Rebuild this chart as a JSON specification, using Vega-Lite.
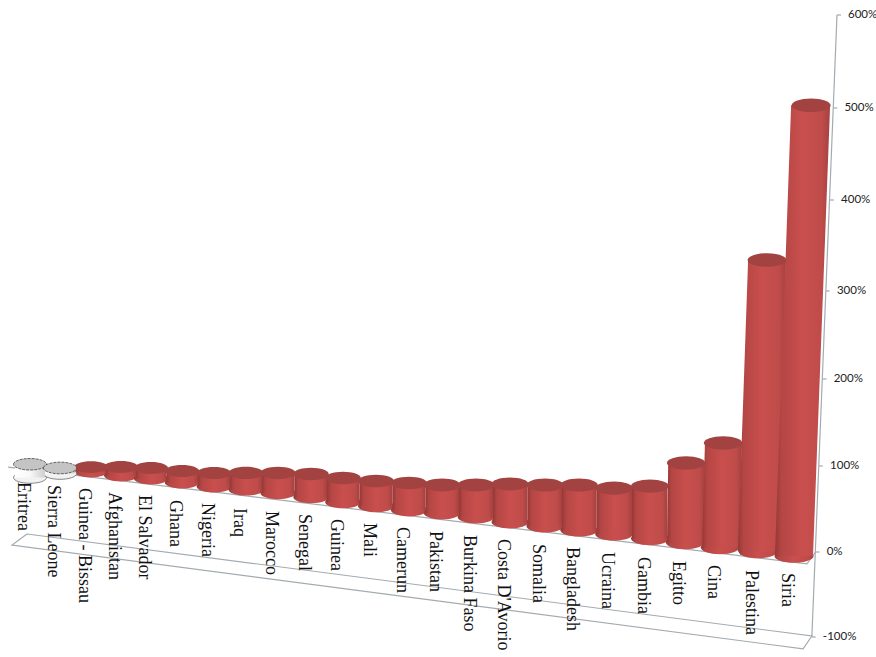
{
"$schema":"https://vega.github.io/schema/vega-lite/v6.json",
"width":876,"height":657,"autosize":"none","padding":0,"background":"white",
"config":{"view":{"stroke":null}},
"datasets":{
"bars":[
{"country":"Eritrea","rank":1,"value":102,"base":86.6,"labelAt":81.4,"levels":[86.6,102],"lefts":[0.5,0.5],"rights":[1.5,1.5],"baseAt":1,"topAt":1},
{"country":"Sierra Leone","rank":2,"value":97.7,"base":91.3,"labelAt":77.9,"levels":[91.3,97.7],"lefts":[1.5,1.5],"rights":[2.5,2.5],"baseAt":2,"topAt":2},
{"country":"Guinea - Bissau","rank":3,"value":98.8,"base":93.6,"labelAt":74.4,"levels":[93.6,98.8],"lefts":[2.5,2.5],"rights":[3.5,3.5],"baseAt":3,"topAt":3},
{"country":"Afghanistan","rank":4,"value":98.8,"base":89,"labelAt":69.8,"levels":[89,98.8],"lefts":[3.5,3.5],"rights":[4.5,4.5],"baseAt":4,"topAt":4},
{"country":"El Salvador","rank":5,"value":97.7,"base":85.5,"labelAt":66.3,"levels":[85.5,97.7],"lefts":[4.5,4.5],"rights":[5.5,5.5],"baseAt":5,"topAt":5},
{"country":"Ghana","rank":6,"value":94.2,"base":80.8,"labelAt":60.5,"levels":[80.8,94.2],"lefts":[5.5,5.5],"rights":[6.5,6.5],"baseAt":6,"topAt":6},
{"country":"Nigeria","rank":7,"value":91.9,"base":76.2,"labelAt":57,"levels":[76.2,91.9],"lefts":[6.5,6.5],"rights":[7.5,7.5],"baseAt":7,"topAt":7},
{"country":"Iraq","rank":8,"value":91.9,"base":72.7,"labelAt":51.2,"levels":[72.7,91.9],"lefts":[7.5,7.5],"rights":[8.5,8.5],"baseAt":8,"topAt":8},
{"country":"Marocco","rank":9,"value":91.9,"base":68.6,"labelAt":47.7,"levels":[68.6,91.9],"lefts":[8.5,8.5],"rights":[9.5,9.5],"baseAt":9,"topAt":9},
{"country":"Senegal","rank":10,"value":90.7,"base":64,"labelAt":44.2,"levels":[64,90.7],"lefts":[9.5,9.5],"rights":[10.5,10.5],"baseAt":10,"topAt":10},
{"country":"Guinea","rank":11,"value":86,"base":58.1,"labelAt":38.4,"levels":[58.1,86],"lefts":[10.5,10.5],"rights":[11.5,11.5],"baseAt":11,"topAt":11},
{"country":"Mali","rank":12,"value":82.6,"base":53.5,"labelAt":33.7,"levels":[53.5,82.6],"lefts":[11.5,11.5],"rights":[12.5,12.5],"baseAt":12,"topAt":12},
{"country":"Camerun","rank":13,"value":80.2,"base":48.8,"labelAt":29.1,"levels":[48.8,80.2],"lefts":[12.5,12.5],"rights":[13.5,13.5],"baseAt":13,"topAt":13},
{"country":"Pakistan","rank":14,"value":77.9,"base":45.3,"labelAt":24.4,"levels":[45.3,77.9],"lefts":[13.5,13.5],"rights":[14.5,14.5],"baseAt":14,"topAt":14},
{"country":"Burkina Faso","rank":15,"value":77.9,"base":40.7,"labelAt":19.8,"levels":[40.7,77.9],"lefts":[14.5,14.5],"rights":[15.5,15.5],"baseAt":15,"topAt":15},
{"country":"Costa D'Avorio","rank":16,"value":79.1,"base":34.9,"labelAt":15.1,"levels":[34.9,79.1],"lefts":[15.5,15.5],"rights":[16.5,16.5],"baseAt":16,"topAt":16},
{"country":"Somalia","rank":17,"value":77.9,"base":30.2,"labelAt":9.3,"levels":[30.2,77.9],"lefts":[16.5,16.5],"rights":[17.5,17.5],"baseAt":17,"topAt":17},
{"country":"Bangladesh","rank":18,"value":77.9,"base":25.6,"labelAt":5.8,"levels":[25.6,77.9],"lefts":[17.5,17.5],"rights":[18.5,18.5],"baseAt":18,"topAt":18},
{"country":"Ucraina","rank":19,"value":74.4,"base":20.9,"labelAt":0,"levels":[20.9,74.4],"lefts":[18.5,18.5],"rights":[19.5,19.5],"baseAt":19,"topAt":19},
{"country":"Gambia","rank":20,"value":76.7,"base":15.7,"labelAt":-5.9,"levels":[15.7,76.7],"lefts":[19.5,19.5],"rights":[20.5,20.5],"baseAt":20,"topAt":20},
{"country":"Egitto","rank":21,"value":103.4,"base":11,"labelAt":-10.6,"levels":[11,103.4],"lefts":[20.49,20.52],"rights":[21.54,21.57],"baseAt":21,"topAt":21.03},
{"country":"Cina","rank":22,"value":126.4,"base":5.2,"labelAt":-15.3,"levels":[5.2,126.4],"lefts":[21.49,21.57],"rights":[22.5,22.58],"baseAt":22,"topAt":22.08},
{"country":"Palestina","rank":23,"value":334,"base":0.6,"labelAt":-21.2,"levels":[0.6,334],"lefts":[22.47,22.74],"rights":[23.55,23.78],"baseAt":23,"topAt":23.25},
{"country":"Siria","rank":24,"value":503,"base":-4.7,"labelAt":-24.7,"levels":[-4.7,503],"lefts":[23.47,23.92],"rights":[24.5,24.95],"baseAt":24,"topAt":24.45}
],
"ticks":[
{"tick":-100,"pos":24.47,"end":24.57,"label":"-100%"},
{"tick":0,"pos":24.57,"end":24.67,"label":"0%"},
{"tick":100,"pos":24.66,"end":24.76,"label":"100%"},
{"tick":200,"pos":24.755,"end":24.855,"label":"200%"},
{"tick":300,"pos":24.84,"end":24.94,"label":"300%"},
{"tick":400,"pos":24.95,"end":25.05,"label":"400%"},
{"tick":500,"pos":25.035,"end":25.135,"label":"500%"},
{"tick":600,"pos":25.125,"end":25.225,"label":"600%"}
],
"frame":[
{"part":"floor","step":1,"pos":0.9,"level":20.9},
{"part":"floor","step":2,"pos":24.47,"level":-98.8},
{"part":"floor","step":3,"pos":24.24,"level":-114},
{"part":"floor","step":4,"pos":0.4,"level":8.1},
{"part":"floor","step":5,"pos":0.9,"level":20.9},
{"part":"back","step":1,"pos":0.27,"level":98.8},
{"part":"back","step":2,"pos":24.34,"level":-14},
{"part":"back","step":3,"pos":24.57,"level":0},
{"part":"axis","step":1,"pos":24.47,"level":-100},
{"part":"axis","step":2,"pos":25.125,"level":600}
]
},
"layer":[
{"data":{"name":"frame"},"mark":{"type":"line","stroke":"#a3abb0","strokeWidth":1.2},
 "encoding":{"x":{"field":"pos","type":"quantitative","axis":null,"scale":{"zero":false,"nice":false,"domain":[0,1,2,3,4,5,6,7,8,9,10,11,12,13,14,15,16,17,18,19,20,21,22,23,24,25,26],"range":[0,30,60,91,121,151,182,214,246,278,311,343,376,409,442,476,510,545,579,614,650,685,720,758,794,832,872]}},
 "y":{"field":"level","type":"quantitative","axis":null,"scale":{"zero":false,"nice":false,"domain":[-100,0,100,200,300,400,500,600],"range":[637,552,466,379,291,200,108,15]}},
 "detail":{"field":"part"},"order":{"field":"step","type":"quantitative"}}},
{"data":{"name":"ticks"},"mark":{"type":"rule","stroke":"#a3abb0","strokeWidth":1.2},
 "encoding":{"x":{"field":"pos","type":"quantitative","axis":null,"scale":{"zero":false,"nice":false,"domain":[0,1,2,3,4,5,6,7,8,9,10,11,12,13,14,15,16,17,18,19,20,21,22,23,24,25,26],"range":[0,30,60,91,121,151,182,214,246,278,311,343,376,409,442,476,510,545,579,614,650,685,720,758,794,832,872]}},"x2":{"field":"end"},
 "y":{"field":"tick","type":"quantitative","axis":null,"scale":{"zero":false,"nice":false,"domain":[-100,0,100,200,300,400,500,600],"range":[637,552,466,379,291,200,108,15]}}}},
{"data":{"name":"ticks"},"mark":{"type":"text","align":"left","baseline":"middle","xOffset":11,"font":"Lato","fontSize":11.5,"fill":"#222222"},
 "encoding":{"x":{"field":"pos","type":"quantitative","axis":null,"scale":{"zero":false,"nice":false,"domain":[0,1,2,3,4,5,6,7,8,9,10,11,12,13,14,15,16,17,18,19,20,21,22,23,24,25,26],"range":[0,30,60,91,121,151,182,214,246,278,311,343,376,409,442,476,510,545,579,614,650,685,720,758,794,832,872]}},
 "y":{"field":"tick","type":"quantitative","axis":null,"scale":{"zero":false,"nice":false,"domain":[-100,0,100,200,300,400,500,600],"range":[637,552,466,379,291,200,108,15]}},"text":{"field":"label"}}},
{"data":{"name":"bars"},"mark":{"type":"text","angle":90,"align":"left","baseline":"middle","xOffset":-7,"font":"Liberation Serif","fontSize":18,"fill":"#111111"},
 "encoding":{"x":{"field":"rank","type":"quantitative","axis":null,"scale":{"zero":false,"nice":false,"domain":[0,1,2,3,4,5,6,7,8,9,10,11,12,13,14,15,16,17,18,19,20,21,22,23,24,25,26],"range":[0,30,60,91,121,151,182,214,246,278,311,343,376,409,442,476,510,545,579,614,650,685,720,758,794,832,872]}},
 "y":{"field":"labelAt","type":"quantitative","axis":null,"scale":{"zero":false,"nice":false,"domain":[-100,0,100,200,300,400,500,600],"range":[637,552,466,379,291,200,108,15]}},"text":{"field":"country"}}},
{"data":{"name":"bars"},"transform":[{"filter":"datum.rank > 2"}],
 "mark":{"type":"point","filled":true,"opacity":1,"shape":"M-1,0A1,0.35,0,1,1,1,0A1,0.35,0,1,1,-1,0Z","fill":{"x1":0,"x2":1,"y1":0,"y2":0,"gradient":"linear","stops":[{"offset":0,"color":"#963836"},{"offset":0.12,"color":"#b44644"},{"offset":0.5,"color":"#c94f4d"},{"offset":0.85,"color":"#bf4c4a"},{"offset":1,"color":"#a54140"}]}},
 "encoding":{"x":{"field":"baseAt","type":"quantitative","axis":null,"scale":{"zero":false,"nice":false,"domain":[0,1,2,3,4,5,6,7,8,9,10,11,12,13,14,15,16,17,18,19,20,21,22,23,24,25,26],"range":[0,30,60,91,121,151,182,214,246,278,311,343,376,409,442,476,510,545,579,614,650,685,720,758,794,832,872]}},
 "y":{"field":"base","type":"quantitative","axis":null,"scale":{"zero":false,"nice":false,"domain":[-100,0,100,200,300,400,500,600],"range":[637,552,466,379,291,200,108,15]}},
 "size":{"field":"rank","type":"quantitative","legend":null,"scale":{"zero":false,"nice":false,"domain":[1,24],"range":[1089,1521]}}}},
{"data":{"name":"bars"},"transform":[{"filter":"datum.rank <= 2"}],
 "mark":{"type":"point","filled":true,"opacity":1,"stroke":"#555555","strokeWidth":0.7,"shape":"M-1,0A1,0.35,0,1,1,1,0A1,0.35,0,1,1,-1,0Z","fill":"#f2f2f2"},
 "encoding":{"x":{"field":"baseAt","type":"quantitative","axis":null,"scale":{"zero":false,"nice":false,"domain":[0,1,2,3,4,5,6,7,8,9,10,11,12,13,14,15,16,17,18,19,20,21,22,23,24,25,26],"range":[0,30,60,91,121,151,182,214,246,278,311,343,376,409,442,476,510,545,579,614,650,685,720,758,794,832,872]}},
 "y":{"field":"base","type":"quantitative","axis":null,"scale":{"zero":false,"nice":false,"domain":[-100,0,100,200,300,400,500,600],"range":[637,552,466,379,291,200,108,15]}},
 "size":{"field":"rank","type":"quantitative","legend":null,"scale":{"zero":false,"nice":false,"domain":[1,24],"range":[1089,1521]}}}},
{"data":{"name":"bars"},"transform":[{"filter":"datum.rank <= 2"},{"flatten":["levels","lefts","rights"]}],
 "mark":{"type":"area","orient":"horizontal","fill":{"x1":0,"x2":1,"y1":0,"y2":0,"gradient":"linear","stops":[{"offset":0,"color":"#ffffff"},{"offset":0.5,"color":"#f8f8f8"},{"offset":1,"color":"#cfcfcf"}]}},
 "encoding":{"y":{"field":"levels","type":"quantitative","axis":null,"scale":{"zero":false,"nice":false,"domain":[-100,0,100,200,300,400,500,600],"range":[637,552,466,379,291,200,108,15]}},
 "x":{"field":"lefts","type":"quantitative","axis":null,"scale":{"zero":false,"nice":false,"domain":[0,1,2,3,4,5,6,7,8,9,10,11,12,13,14,15,16,17,18,19,20,21,22,23,24,25,26],"range":[0,30,60,91,121,151,182,214,246,278,311,343,376,409,442,476,510,545,579,614,650,685,720,758,794,832,872]}},"x2":{"field":"rights"},"detail":{"field":"country"}}},
{"data":{"name":"bars"},"transform":[{"filter":"datum.rank > 2"},{"flatten":["levels","lefts","rights"]}],
 "mark":{"type":"area","orient":"horizontal","fill":{"x1":0,"x2":1,"y1":0,"y2":0,"gradient":"linear","stops":[{"offset":0,"color":"#963836"},{"offset":0.12,"color":"#b44644"},{"offset":0.5,"color":"#c94f4d"},{"offset":0.85,"color":"#bf4c4a"},{"offset":1,"color":"#a54140"}]}},
 "encoding":{"y":{"field":"levels","type":"quantitative","axis":null,"scale":{"zero":false,"nice":false,"domain":[-100,0,100,200,300,400,500,600],"range":[637,552,466,379,291,200,108,15]}},
 "x":{"field":"lefts","type":"quantitative","axis":null,"scale":{"zero":false,"nice":false,"domain":[0,1,2,3,4,5,6,7,8,9,10,11,12,13,14,15,16,17,18,19,20,21,22,23,24,25,26],"range":[0,30,60,91,121,151,182,214,246,278,311,343,376,409,442,476,510,545,579,614,650,685,720,758,794,832,872]}},"x2":{"field":"rights"},"detail":{"field":"country"}}},
{"data":{"name":"bars"},"transform":[{"filter":"datum.rank > 2"}],
 "mark":{"type":"point","filled":true,"opacity":1,"shape":"M-1,0A1,0.35,0,1,1,1,0A1,0.35,0,1,1,-1,0Z","fill":"#a34341"},
 "encoding":{"x":{"field":"topAt","type":"quantitative","axis":null,"scale":{"zero":false,"nice":false,"domain":[0,1,2,3,4,5,6,7,8,9,10,11,12,13,14,15,16,17,18,19,20,21,22,23,24,25,26],"range":[0,30,60,91,121,151,182,214,246,278,311,343,376,409,442,476,510,545,579,614,650,685,720,758,794,832,872]}},
 "y":{"field":"value","type":"quantitative","axis":null,"scale":{"zero":false,"nice":false,"domain":[-100,0,100,200,300,400,500,600],"range":[637,552,466,379,291,200,108,15]}},
 "size":{"field":"rank","type":"quantitative","legend":null,"scale":{"zero":false,"nice":false,"domain":[1,24],"range":[1089,1521]}}}},
{"data":{"name":"bars"},"transform":[{"filter":"datum.rank <= 2"}],
 "mark":{"type":"point","filled":true,"opacity":1,"stroke":"#444444","strokeWidth":0.8,"strokeDash":[3,1],"shape":"M-1,0A1,0.35,0,1,1,1,0A1,0.35,0,1,1,-1,0Z","fill":"#c4c4c4"},
 "encoding":{"x":{"field":"topAt","type":"quantitative","axis":null,"scale":{"zero":false,"nice":false,"domain":[0,1,2,3,4,5,6,7,8,9,10,11,12,13,14,15,16,17,18,19,20,21,22,23,24,25,26],"range":[0,30,60,91,121,151,182,214,246,278,311,343,376,409,442,476,510,545,579,614,650,685,720,758,794,832,872]}},
 "y":{"field":"value","type":"quantitative","axis":null,"scale":{"zero":false,"nice":false,"domain":[-100,0,100,200,300,400,500,600],"range":[637,552,466,379,291,200,108,15]}},
 "size":{"field":"rank","type":"quantitative","legend":null,"scale":{"zero":false,"nice":false,"domain":[1,24],"range":[1089,1521]}}}}
]
}
